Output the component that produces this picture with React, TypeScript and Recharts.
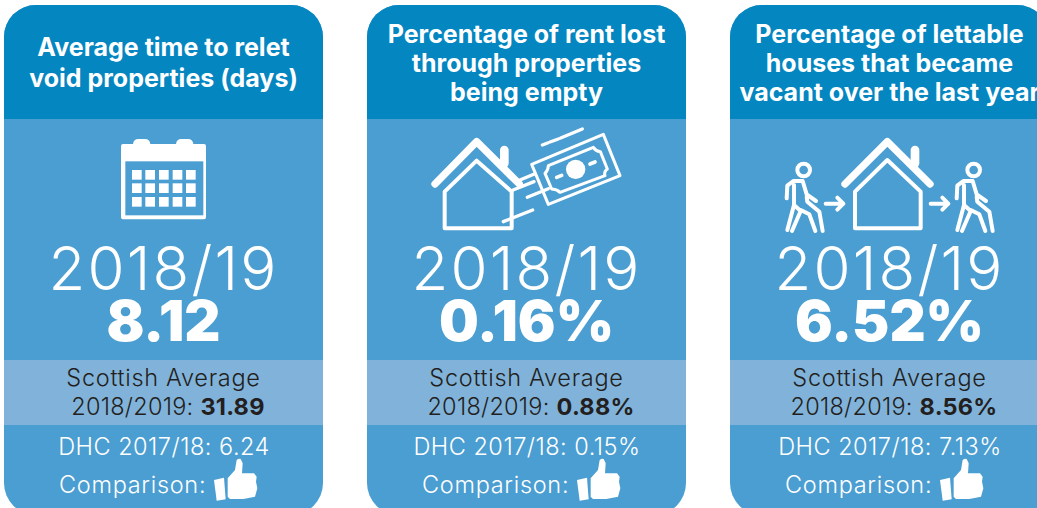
import { BarChart, Bar, XAxis, YAxis } from 'recharts';

const categories = ['Relet time', 'Rent lost', 'Vacant houses'];
const titles = [
  ['Average time to relet', 'void properties (days)'],
  ['Percentage of rent lost', 'through properties', 'being empty'],
  ['Percentage of lettable', 'houses that became', 'vacant over the last year'],
];
const years = ['2018/19', '2018/19', '2018/19'];
const values = ['8.12', '0.16%', '6.52%'];
const scottishValues = ['31.89', '0.88%', '8.56%'];
const priorValues = ['6.24', '0.15%', '7.13%'];
// every card is the same height, the figures are printed on it
const cardSpan = [1, 1, 1];

const chartData = categories.map((name, i) => ({ name, span: cardSpan[i] }));

const HEADER = '#0486c1';
const BODY = '#4b9ed1';
const BAND = '#81b3da';
const INK = '#231f20';
const FONT = 'Inter, sans-serif';

// icons are traced at 3x, so they get a scale(1/3) group
function Icon({ x, y, children }: { x: number; y: number; children: React.ReactNode }) {
  return (
    <g
      transform={`translate(${x} ${y}) scale(${1 / 3})`}
      fill="none"
      stroke="#fff"
      strokeLinecap="round"
      strokeLinejoin="round"
    >
      {children}
    </g>
  );
}

function Calendar({ x, y }: { x: number; y: number }) {
  const cols = [396, 436, 477, 518, 558];
  const rows = [510, 550, 591];
  return (
    <Icon x={x - 4} y={y - 5}>
      <path
        d="M369 432H399Q401 417 415 417H435Q449 417 451 432H528Q530 417 544 417H564Q578 417 580 432H612Q618 432 618 438V652Q618 658 612 658H369Q363 658 363 652V438Q363 432 369 432Z"
        fill="#fff"
        stroke="none"
      />
      <rect x={376} y={484} width={234} height={162} fill={BODY} stroke="none" />
      {rows.map(r =>
        cols.map(c => <rect key={`${r}-${c}`} x={c} y={r} width={29} height={29} fill="#fff" stroke="none" />)
      )}
    </Icon>
  );
}

function MoneyHouse({ x, y }: { x: number; y: number }) {
  return (
    <>
      <Icon x={x - 7} y={y - 5}>
        <path d="M225 552L350 425L478 552" strokeWidth={22} />
        <path d="M433 450V490" strokeWidth={26} />
        <path d="M254 575L350 482L455 575V685H254Z" strokeWidth={12} />
      </Icon>
      <Icon x={x + 158} y={y + 120}>
        <path d="M20 118L235 28L285 152L70 238Z" strokeWidth={9} />
        <path
          d="M70 122L205 67Q212 78 226 80L247 132Q236 140 240 152L105 202Q95 192 80 192L60 145Q70 135 70 122Z"
          strokeWidth={9}
        />
        <circle cx={152} cy={133} r={29} fill="#fff" stroke="none" />
        <path d="M95 157L110 151M195 117L210 111" strokeWidth={11} />
        <path d="M52 60L68 54M75 51L100 42M107 39L172 12" strokeWidth={10} />
        <path d="M-15 165L28 147M-36 195L27 170M7 217L70 191M-65 290L23 255" strokeWidth={10} />
      </Icon>
    </>
  );
}

function Walker({ x, y }: { x: number; y: number }) {
  return (
    <Icon x={x} y={y}>
      <circle cx={71} cy={45} r={19} strokeWidth={12} />
      <path
        d="M20 130L22 92L40 78H68L80 118L108 138M42 90V150L22 225M42 150L62 168L36 228M80 125L82 140L118 170L128 228M62 165L88 178L106 228"
        strokeWidth={12}
      />
    </Icon>
  );
}

function Arrow({ x, y }: { x: number; y: number }) {
  return (
    <Icon x={x} y={y}>
      <path d="M137 146H190M172 128L190 146L172 164" strokeWidth={12} />
    </Icon>
  );
}

function MoveHouse({ x, y }: { x: number; y: number }) {
  return (
    <>
      <Icon x={x - 10} y={y - 5}>
        <path d="M375 552L502 425L630 552" strokeWidth={22} />
        <path d="M585 450V490" strokeWidth={26} />
        <path d="M405 575L502 480L602 575V685H405Z" strokeWidth={12} />
      </Icon>
      <Walker x={x + 50} y={y + 150} />
      <Arrow x={x + 50} y={y + 150} />
      <Walker x={x + 220} y={y + 150} />
      <Arrow x={x + 155} y={y + 150} />
    </>
  );
}

function Thumb({ x, y }: { x: number; y: number }) {
  return (
    <Icon x={x + 176} y={y + 435}>
      <g fill="#fff" stroke="none">
        <path d="M102 120L132 113L137 178L110 182Z" />
        <path d="M143 115L165 90L170 60Q176 55 182 57L188 70L186 100H222L230 110L228 125L232 145L225 170L190 177H150L143 170Z" />
      </g>
    </Icon>
  );
}

const ICONS = [Calendar, MoneyHouse, MoveHouse];

function Card(props: any) {
  const { x, y, width, height, index } = props;
  const cx = x + width / 2;
  const r = 32;
  const headerBottom = y + 114;
  const Pict = ICONS[index];
  const lines = titles[index];
  const titleY = lines.length === 2 ? [y + 51, y + 82] : [y + 38, y + 67, y + 96];
  const small = { fontSize: 23.5, fontWeight: 300 };
  return (
    <g fontFamily={FONT} textAnchor="middle">
      <rect x={x} y={y} width={width} height={height} rx={r} fill={BODY} />
      <path
        d={`M${x} ${headerBottom}V${y + r}A${r} ${r} 0 0 1 ${x + r} ${y}H${x + width - r}A${r} ${r} 0 0 1 ${x + width} ${y + r}V${headerBottom}Z`}
        fill={HEADER}
      />
      <rect x={x} y={y + 355} width={width} height={65} fill={BAND} />
      {lines.map((line, i) => (
        <text key={line} x={cx} y={titleY[i]} fill="#fff" fontSize={25} fontWeight={700}>
          {line}
        </text>
      ))}
      <Pict x={x} y={y} />
      <text x={cx} y={y + 285} fill="#fff" fontSize={60} fontWeight={300} letterSpacing={2.2}>
        {years[index]}
      </text>
      <text x={cx} y={y + 336} fill="#fff" fontSize={56} fontWeight={900}>
        {values[index]}
      </text>
      <text x={cx} y={y + 381} fill={INK} letterSpacing={0.7} {...small}>
        Scottish Average
      </text>
      <text x={cx + 4.5} y={y + 410} fill={INK} letterSpacing={0.25} {...small}>
        2018/2019: <tspan fontWeight={700}>{scottishValues[index]}</tspan>
      </text>
      <text x={cx + 0.5} y={y + 450} fill="#fff" letterSpacing={0.5} {...small}>
        DHC 2017/18: {priorValues[index]}
      </text>
      <text x={x + 55} y={y + 488} fill="#fff" letterSpacing={0.7} {...small} textAnchor="start">
        Comparison:
      </text>
      <Thumb x={x} y={y} />
    </g>
  );
}

export default function App() {
  return (
    <div style={{ position: 'absolute', left: 0, top: 0, width: 1037, height: 508, overflow: 'hidden', background: '#fff' }}>
      <div style={{ position: 'absolute', left: -18, top: 0 }}>
        <BarChart width={1089} height={516} data={chartData} margin={{ top: 5, right: 0, bottom: 1, left: 0 }}>
          <XAxis dataKey="name" hide />
          <YAxis domain={[0, 1]} hide />
          <Bar dataKey="span" barSize={319} isAnimationActive={false} shape={Card} />
        </BarChart>
      </div>
    </div>
  );
}
